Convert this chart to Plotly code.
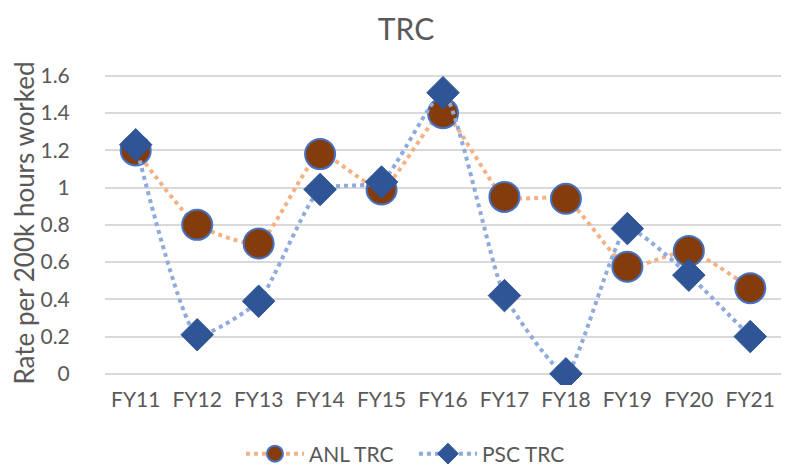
import plotly.graph_objects as go

categories = ["FY11", "FY12", "FY13", "FY14", "FY15", "FY16", "FY17", "FY18", "FY19", "FY20", "FY21"]
anl_trc = [1.20, 0.80, 0.70, 1.18, 0.99, 1.40, 0.95, 0.94, 0.575, 0.66, 0.46]
psc_trc = [1.23, 0.21, 0.39, 0.99, 1.03, 1.51, 0.42, 0.00, 0.78, 0.53, 0.20]
y_ticks = [0, 0.2, 0.4, 0.6, 0.8, 1, 1.2, 1.4, 1.6]
y_tick_labels = ["0", "0.2", "0.4", "0.6", "0.8", "1", "1.2", "1.4", "1.6"]

fig = go.Figure()
fig.add_trace(go.Scatter(
    x=categories, y=anl_trc, name="ANL TRC", mode="lines+markers",
    line=dict(color="#F4B183", width=4, dash="dot", shape="spline", smoothing=0.5),
    marker=dict(symbol="circle", size=30, color="#843C0C", line=dict(color="#4472C4", width=2)),
))
fig.add_trace(go.Scatter(
    x=categories, y=psc_trc, name="PSC TRC", mode="lines+markers",
    line=dict(color="#8FAADC", width=4, dash="dot", shape="spline", smoothing=0.5),
    marker=dict(symbol="diamond", size=25, color="#2F5597", line=dict(color="#2F5597", width=1)),
))

fig.update_layout(
    width=796, height=467,
    paper_bgcolor="white", plot_bgcolor="white",
    font=dict(family="Lato, Open Sans, sans-serif", color="#595959", size=20),
    title=dict(text="TRC", x=0.5, xanchor="center", y=0.955, yanchor="middle",
               font=dict(size=30, color="#595959")),
    margin=dict(l=97, r=23, t=53, b=90, autoexpand=False),
    showlegend=True,
    legend=dict(orientation="h", xref="container", x=0.51, xanchor="center",
                yref="container", y=0.045, yanchor="middle",
                font=dict(size=21, color="#595959"), itemwidth=58,
                entrywidth=100, entrywidthmode="pixels"),
    xaxis=dict(showgrid=False, showline=False, ticks="", tickfont=dict(size=21),
               range=[-0.5, 10.5]),
    yaxis=dict(range=[-0.06, 1.68], tickvals=y_ticks, ticktext=y_tick_labels,
               showgrid=True, gridcolor="#D9D9D9", gridwidth=1.5, zeroline=False,
               tickfont=dict(size=21), ticks="outside", ticklen=30, tickcolor="white",
               title=dict(text="Rate per 200k hours worked", font=dict(size=26, color="#595959"), standoff=14)),
)

fig.write_html("out.html")
